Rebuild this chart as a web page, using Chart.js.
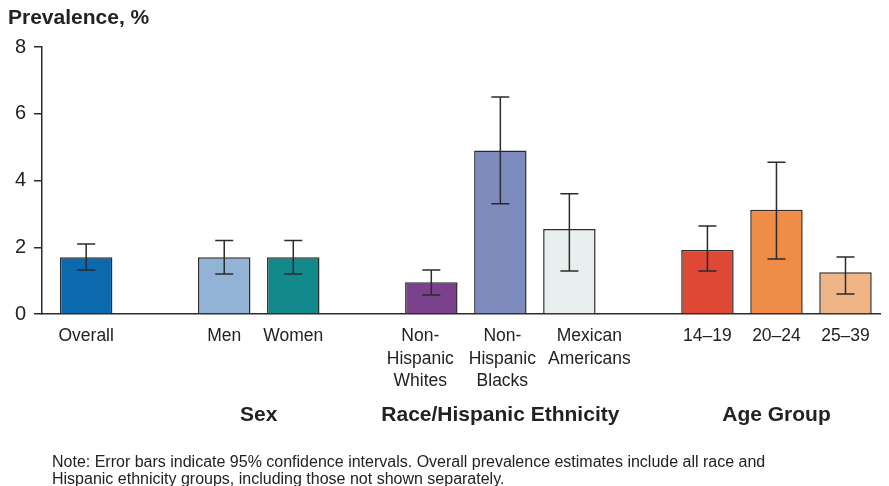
<!DOCTYPE html>
<html><head><meta charset="utf-8">
<script src="https://cdn.jsdelivr.net/npm/chart.js@4/dist/chart.umd.min.js"></script>
<style>html,body{margin:0;padding:0;background:#fff}#w{width:889px;height:486px;position:relative}</style>
</head><body><div id="w"><canvas id="c"></canvas></div>
<script>
const categories = [["Overall"],["Men"],["Women"],["Non-","Hispanic","Whites"],["Non-","Hispanic","Blacks"],["Mexican","Americans"],["14–19"],["20–24"],["25–39"]];
const slotPositions = [0,2,3,5,6,7,9,10,11];
const prevalence = [1.7,1.7,1.7,0.95,4.9,2.55,1.92,3.12,1.25];
const ciLower = [1.32,1.2,1.2,0.57,3.3,1.29,1.29,1.65,0.6];
const ciUpper = [2.1,2.2,2.2,1.32,6.5,3.6,2.64,4.55,1.71];
const barColors = ["#0a6aad","#93b3d6","#128a8c","#7b418c","#7e8cbd","#e8efee","#e04836","#ee8c48","#efb586"];
const groupLabels = ["Sex","Race/Hispanic Ethnicity","Age Group"];
const groupCenters = [2.5,6,10];
const yTicks = [0,2,4,6,8];
const yTitle = "Prevalence, %";
const noteLines = ["Note: Error bars indicate 95% confidence intervals. Overall prevalence estimates include all race and","Hispanic ethnicity groups, including those not shown separately."];

// label nudges in pixels (style only)
const labelNudge = [0,0,0,-11,2,20,0,0,0];

const extras = {
  id:'extras',
  afterDatasetsDraw(chart){
    const {ctx, scales:{x,y}} = chart;
    ctx.save();
    ctx.strokeStyle = '#2b2b2b'; ctx.lineWidth = 1.5;
    slotPositions.forEach((p,i)=>{
      const cx = x.getPixelForValue(p);
      const yl = y.getPixelForValue(ciLower[i]), yu = y.getPixelForValue(ciUpper[i]);
      ctx.beginPath();
      ctx.moveTo(cx,yl); ctx.lineTo(cx,yu);
      ctx.moveTo(cx-9,yl); ctx.lineTo(cx+9,yl);
      ctx.moveTo(cx-9,yu); ctx.lineTo(cx+9,yu);
      ctx.stroke();
    });
    ctx.restore();
  },
  afterDraw(chart){
    const {ctx, scales:{x,y}} = chart;
    ctx.save();
    ctx.fillStyle = '#222';
    ctx.textBaseline = 'middle';
    ctx.font = '17.5px "Liberation Sans", Arial, sans-serif';
    ctx.textAlign = 'center';
    const base = y.getPixelForValue(0) + 22.5;
    slotPositions.forEach((p,i)=>{
      const cx = x.getPixelForValue(p) + labelNudge[i];
      categories[i].forEach((line,j)=> ctx.fillText(line, cx, base + j*22.5));
    });
    ctx.font = 'bold 21px "Liberation Sans", Arial, sans-serif';
    ctx.textAlign = 'left';
    ctx.fillText(yTitle, 8, 18);
    ctx.textAlign = 'center';
    groupLabels.forEach((g,i)=> ctx.fillText(g, x.getPixelForValue(groupCenters[i]), 415));
    ctx.font = '16px "Liberation Sans", Arial, sans-serif';
    ctx.textAlign = 'left';
    ctx.fillText(noteLines[0], 52, 463);
    ctx.fillText(noteLines[1], 52, 480);
    ctx.restore();
  }
};

new Chart(document.getElementById('c'), {
  type:'bar',
  data:{
    datasets:[{
      data: slotPositions.map((p,i)=>({x:p,y:prevalence[i]})),
      backgroundColor: barColors,
      borderColor:'#2b2b2b',
      borderWidth:1.5,
      barPercentage:0.76,
      categoryPercentage:1
    }]
  },
  options:{
    responsive:true, maintainAspectRatio:false, animation:false,
    layout:{padding:{top:47,right:9,left:0,bottom:0}},
    plugins:{legend:{display:false},tooltip:{enabled:false}},
    scales:{
      x:{
        type:'linear', min:-0.64, max:11.5, offset:false,
        afterBuildTicks(s){ s.ticks = slotPositions.map(v=>({value:v})); },
        afterFit(s){ s.height = 172; },
        ticks:{ display:false },
        grid:{display:true, drawOnChartArea:false, drawTicks:false},
        border:{display:true, color:'#2b2b2b', width:1.5}
      },
      y:{
        min:0, max:8,
        afterBuildTicks(s){ s.ticks = yTicks.map(v=>({value:v})); },
        afterFit(s){ s.width = 42; },
        ticks:{
          padding:8, color:'#222',
          font:{family:'"Liberation Sans", Arial, sans-serif', size:20}
        },
        grid:{display:true, drawOnChartArea:false, drawTicks:true, tickLength:8, color:'#2b2b2b', lineWidth:1.5},
        border:{display:true, color:'#2b2b2b', width:1.5}
      }
    }
  },
  plugins:[extras]
});
</script></body></html>
